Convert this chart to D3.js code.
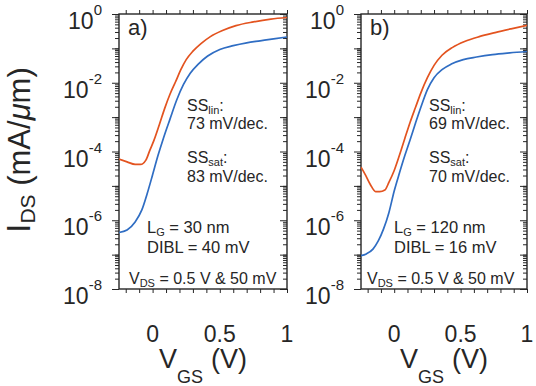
<!DOCTYPE html>
<html>
<head>
<meta charset="utf-8">
<script src="https://cdn.jsdelivr.net/npm/d3@7"></script>
<style>
  html, body { margin: 0; padding: 0; background: #fff; }
  svg { display: block; font-family: "Liberation Sans", Arial, sans-serif; }
</style>
</head>
<body>
<div id="chart"></div>
<script>
// ---- data (VGS in V, IDS in mA/um) ----
// panel a) LG = 30 nm
const vgsRedA = [-0.25, -0.19, -0.13, -0.09, -0.05, -0.02, 0.01, 0.05, 0.09, 0.13, 0.17, 0.21, 0.25, 0.30, 0.36, 0.43, 0.52, 0.62, 0.75, 0.88, 1.0];
const idsRedA = [6.0e-5, 5.0e-5, 4.2e-5, 4.2e-5, 5.6e-5, 1.1e-4, 2.1e-4, 6.0e-4, 1.8e-3, 4.7e-3, 1.05e-2, 2.4e-2, 4.7e-2, 8.3e-2, 0.138, 0.22, 0.33, 0.46, 0.59, 0.71, 0.79];
const vgsBlueA = [-0.25, -0.19, -0.13, -0.08, -0.04, 0.0, 0.04, 0.08, 0.13, 0.18, 0.23, 0.28, 0.34, 0.41, 0.50, 0.60, 0.70, 0.80, 0.90, 1.0];
const idsBlueA = [4.4e-7, 5.2e-7, 8.9e-7, 2.0e-6, 6.0e-6, 2.1e-5, 7.6e-5, 2.4e-4, 8.9e-4, 3.2e-3, 8.9e-3, 1.9e-2, 3.5e-2, 6.0e-2, 9.3e-2, 0.12, 0.145, 0.166, 0.19, 0.214];

// panel b) LG = 120 nm
const vgsRedB = [-0.25, -0.22, -0.18, -0.14, -0.11, -0.07, -0.04, 0.0, 0.04, 0.08, 0.12, 0.16, 0.20, 0.25, 0.30, 0.36, 0.44, 0.53, 0.64, 0.76, 0.88, 1.0];
const idsRedB = [3.5e-5, 2.2e-5, 1.1e-5, 6.8e-6, 6.8e-6, 7.6e-6, 1.26e-5, 2.8e-5, 7.9e-5, 2.4e-4, 7.1e-4, 1.9e-3, 5.0e-3, 1.4e-2, 3.2e-2, 6.3e-2, 0.107, 0.158, 0.219, 0.288, 0.37, 0.47];
const vgsBlueB = [-0.25, -0.21, -0.16, -0.12, -0.08, -0.04, 0.0, 0.04, 0.08, 0.12, 0.16, 0.20, 0.25, 0.30, 0.36, 0.43, 0.52, 0.62, 0.74, 0.87, 1.0];
const idsBlueB = [9.3e-8, 1.05e-7, 1.45e-7, 2.5e-7, 5.6e-7, 1.66e-6, 7.1e-6, 2.4e-5, 7.6e-5, 2.2e-4, 6.6e-4, 1.9e-3, 6.3e-3, 1.4e-2, 2.4e-2, 3.5e-2, 4.7e-2, 5.6e-2, 6.6e-2, 7.4e-2, 8.1e-2];

// ticks
const yMajor = [1, 1e-2, 1e-4, 1e-6, 1e-8];
const yExp = ["0", "-2", "-4", "-6", "-8"];
const xMinor = [-0.2, -0.1, 0, 0.1, 0.2, 0.3, 0.4, 0.5, 0.6, 0.7, 0.8, 0.9, 1.0];
const xLabels = [0, 0.5, 1];

// text
const tags = ["a)", "b)"];
const ssLin = ["73 mV/dec.", "69 mV/dec."];
const ssSat = ["83 mV/dec.", "70 mV/dec."];
const gateLen = ["30 nm", "120 nm"];
const dibl = ["40 mV", "16 mV"];

const W = 536, H = 386;
const plotTop = 14, plotBottom = 289;
const RED = "#e3531f", BLUE = "#2f6dc3", INK = "#262626";

const svg = d3.select("#chart").append("svg")
  .attr("width", W).attr("height", H);
svg.append("rect").attr("width", W).attr("height", H).attr("fill", "#fff");

const y = d3.scaleLog().domain([1e-8, 1]).range([plotBottom, plotTop]);
const yMinor = y.ticks().filter(v => !yMajor.some(m => Math.abs(v / m - 1) < 1e-6));
const yDecades = [1, 1e-1, 1e-2, 1e-3, 1e-4, 1e-5, 1e-6, 1e-7, 1e-8];

const panels = [
  { left: 119, right: 287, lgDx: 28, vdsDx: 10,
    red: [vgsRedA, idsRedA], blue: [vgsBlueA, idsBlueA] },
  { left: 361, right: 527, lgDx: 33, vdsDx: 6,
    red: [vgsRedB, idsRedB], blue: [vgsBlueB, idsBlueB] }
];

function styleTicks(sel) {
  sel.select(".domain").remove();
  sel.selectAll(".tick line").attr("stroke", INK).attr("stroke-width", 1);
}

panels.forEach((p, i) => {
  const x = d3.scaleLinear().domain([-0.25, 1]).range([p.left, p.right]);
  const g = svg.append("g");

  // x ticks (top outward, bottom outward)
  g.append("g").attr("transform", `translate(0,${plotTop})`)
    .call(d3.axisTop(x).tickValues(xMinor).tickSize(4).tickFormat(""))
    .call(styleTicks);
  g.append("g").attr("transform", `translate(0,${plotBottom})`)
    .call(d3.axisBottom(x).tickValues(xMinor).tickSize(4).tickFormat(""))
    .call(styleTicks);

  // y ticks: left outward, right inward
  g.append("g").attr("transform", `translate(${p.left},0)`)
    .call(d3.axisLeft(y).tickValues(yMinor).tickSize(4).tickFormat(""))
    .call(styleTicks);
  g.append("g").attr("transform", `translate(${p.left},0)`)
    .call(d3.axisLeft(y).tickValues(yDecades).tickSize(7).tickFormat(""))
    .call(styleTicks);
  g.append("g").attr("transform", `translate(${p.right},0)`)
    .call(d3.axisRight(y).tickValues(yMinor).tickSize(-4).tickFormat(""))
    .call(styleTicks);
  g.append("g").attr("transform", `translate(${p.right},0)`)
    .call(d3.axisRight(y).tickValues(yDecades).tickSize(-7).tickFormat(""))
    .call(styleTicks);

  // frame
  g.append("rect")
    .attr("x", p.left).attr("y", plotTop)
    .attr("width", p.right - p.left).attr("height", plotBottom - plotTop)
    .attr("fill", "none").attr("stroke", INK).attr("stroke-width", 1.4);

  // y tick labels 10^n
  yMajor.forEach((v, k) => {
    const t = g.append("text")
      .attr("x", p.left - 17).attr("y", y(v) + 15)
      .attr("text-anchor", "end").attr("fill", INK)
      .attr("font-size", 23);
    t.append("tspan").text("10");
    t.append("tspan").attr("font-size", 15).attr("dy", -14).text(yExp[k]);
  });

  // x tick labels
  xLabels.forEach(v => {
    g.append("text")
      .attr("x", x(v)).attr("y", 342)
      .attr("text-anchor", "middle").attr("fill", INK)
      .attr("font-size", 23)
      .text(v);
  });

  // x title
  const xt = g.append("text")
    .attr("x", x(0.375)).attr("y", 368)
    .attr("text-anchor", "middle").attr("fill", INK)
    .attr("font-size", 27);
  xt.append("tspan").text("V");
  xt.append("tspan").attr("font-size", 18).attr("dy", 15).text("GS");
  xt.append("tspan").attr("dy", -15).attr("dx", 8).text("(V)");

  // curves
  const clipId = "clip" + i;
  g.append("clipPath").attr("id", clipId)
    .append("rect").attr("x", p.left).attr("y", plotTop)
    .attr("width", p.right - p.left).attr("height", plotBottom - plotTop);

  const line = d3.line()
    .x(d => x(d[0])).y(d => y(d[1]))
    .curve(d3.curveMonotoneX);

  [[p.blue, BLUE], [p.red, RED]].forEach(([s, col]) => {
    const pts = s[0].map((v, k) => [v, s[1][k]]);
    g.append("path")
      .attr("clip-path", `url(#${clipId})`)
      .attr("d", line(pts))
      .attr("fill", "none").attr("stroke", col)
      .attr("stroke-width", 1.7);
  });

  // annotations
  g.append("text").attr("x", p.left + 9).attr("y", 35)
    .attr("font-size", 22).attr("fill", INK).text(tags[i]);

  const ax = p.left + 68;
  const s1 = g.append("text").attr("x", ax).attr("y", 111)
    .attr("font-size", 16).attr("fill", INK);
  s1.append("tspan").text("SS");
  s1.append("tspan").attr("font-size", 11).attr("dy", 2.5).text("lin");
  s1.append("tspan").attr("dy", -2.5).text(":");
  g.append("text").attr("x", ax).attr("y", 129)
    .attr("font-size", 16).attr("fill", INK).text(ssLin[i]);

  const s2 = g.append("text").attr("x", ax).attr("y", 163)
    .attr("font-size", 16).attr("fill", INK);
  s2.append("tspan").text("SS");
  s2.append("tspan").attr("font-size", 11).attr("dy", 2.5).text("sat");
  s2.append("tspan").attr("dy", -2.5).text(":");
  g.append("text").attr("x", ax).attr("y", 182)
    .attr("font-size", 16).attr("fill", INK).text(ssSat[i]);

  const lg = g.append("text").attr("x", p.left + p.lgDx).attr("y", 233)
    .attr("font-size", 16.5).attr("fill", INK);
  lg.append("tspan").text("L");
  lg.append("tspan").attr("font-size", 11).attr("dy", 3).text("G");
  lg.append("tspan").attr("dy", -3).text(" = " + gateLen[i]);
  g.append("text").attr("x", p.left + p.lgDx).attr("y", 253)
    .attr("font-size", 16.5).attr("fill", INK).text("DIBL = " + dibl[i]);

  const vd = g.append("text").attr("x", p.left + p.vdsDx).attr("y", 284)
    .attr("font-size", 16).attr("fill", INK);
  vd.append("tspan").text("V");
  vd.append("tspan").attr("font-size", 11).attr("dy", 3).text("DS");
  vd.append("tspan").attr("dy", -3).text(" = 0.5 V & 50 mV");
});

// y title
const yt = svg.append("text")
  .attr("transform", "translate(30,150) rotate(-90)")
  .attr("text-anchor", "middle").attr("fill", INK)
  .attr("font-size", 31);
yt.append("tspan").attr("font-size", 33).text("I");
yt.append("tspan").attr("font-size", 21).attr("dy", 5).text("DS");
yt.append("tspan").attr("dy", -5).text(" (mA/");
yt.append("tspan").attr("font-style", "italic").text("\u03bc");
yt.append("tspan").text("m)");
</script>
</body>
</html>
